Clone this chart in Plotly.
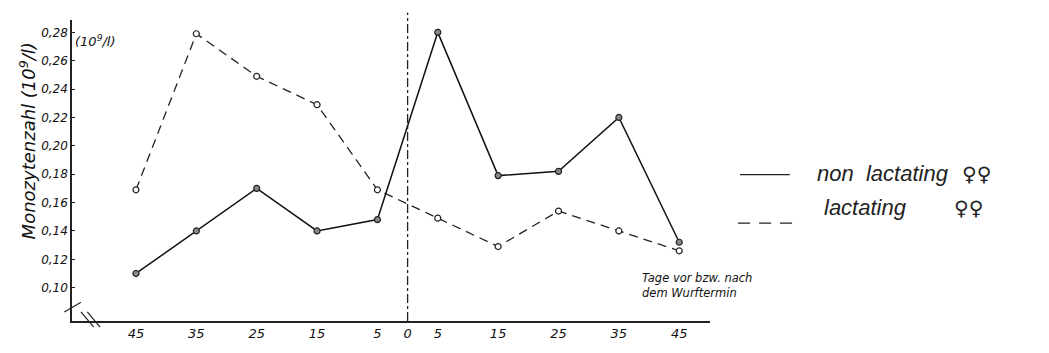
import plotly.graph_objects as go

# Days before (-) / after (+) parturition
days = [-45, -35, -25, -15, -5, 5, 15, 25, 35, 45]
non_lactating = [0.11, 0.14, 0.17, 0.14, 0.148, 0.28, 0.179, 0.182, 0.22, 0.132]
lactating = [0.169, 0.279, 0.249, 0.229, 0.169, 0.149, 0.129, 0.154, 0.14, 0.126]

y_ticks = [0.10, 0.12, 0.14, 0.16, 0.18, 0.20, 0.22, 0.24, 0.26, 0.28]
y_ticktext = ["0,10", "0,12", "0,14", "0,16", "0,18", "0,20", "0,22", "0,24", "0,26", "0,28"]
x_ticks = [-45, -35, -25, -15, -5, 0, 5, 15, 25, 35, 45]
x_ticktext = ["45", "35", "25", "15", "5", "0", "5", "15", "25", "35", "45"]

FONT = "DejaVu Sans"
HAND = "Liberation Sans"

fig = go.Figure()
fig.add_trace(go.Scatter(
    x=days, y=lactating, mode="lines+markers", name="lactating ♀♀",
    line=dict(color="#222", width=1.3, dash="9px,6px"),
    marker=dict(symbol="circle", size=6, color="white", line=dict(color="#222", width=1.2)),
))
fig.add_trace(go.Scatter(
    x=days, y=non_lactating, mode="lines+markers", name="non lactating ♀♀",
    line=dict(color="#111", width=1.5),
    marker=dict(symbol="circle", size=6, color="#888", line=dict(color="#222", width=1.2)),
))

x_range = [-55.6, 50.1]
y_range = [0.0765, 0.2887]

shapes = [
    # vertical dash-dot line at day 0
    dict(type="line", xref="x", yref="paper", x0=0, x1=0, y0=0, y1=1.025,
         line=dict(color="#222", width=1.3, dash="dashdot")),
    # axis breaks
    dict(type="line", xref="paper", yref="paper", x0=-0.012, x1=0.014, y0=0.03, y1=0.062,
         line=dict(color="#222", width=1.2)),
    dict(type="line", xref="paper", yref="paper", x0=0.014, x1=0.034, y0=0.03, y1=-0.02,
         line=dict(color="#222", width=1.2)),
    dict(type="line", xref="paper", yref="paper", x0=0.024, x1=0.044, y0=0.03, y1=-0.02,
         line=dict(color="#222", width=1.2)),
    # legend samples
    dict(type="line", xref="paper", yref="paper", x0=1.047, x1=1.125, y0=0.486, y1=0.486,
         line=dict(color="#222", width=1.3)),
    dict(type="line", xref="paper", yref="paper", x0=1.044, x1=1.134, y0=0.325, y1=0.325,
         line=dict(color="#222", width=1.3, dash="12px,9px")),
]

annotations = [
    dict(text="Monozytenzahl (10<sup>9</sup>/l)", xref="paper", yref="paper", x=-0.069, y=0.60,
         xanchor="center", yanchor="middle",
         textangle=-90, showarrow=False, font=dict(family=FONT, size=18, style="italic", color="#111")),
    dict(text="(10<sup>9</sup>/l)", xref="paper", yref="paper", x=0.002, y=0.962, xanchor="left",
         showarrow=False, font=dict(family=FONT, size=13, style="italic", color="#111")),
    dict(text="Tage vor bzw. nach<br>dem Wurftermin", xref="paper", yref="paper", x=0.89, y=0.118,
         xanchor="left", yanchor="middle", align="left", showarrow=False,
         font=dict(family=FONT, size=11.5, style="italic", color="#111")),
    dict(text="non  lactating", xref="paper", yref="paper", x=1.165, y=0.49, xanchor="left",
         showarrow=False, font=dict(family=HAND, size=22, style="italic", color="#222")),
    dict(text="♀♀", xref="paper", yref="paper", x=1.392, y=0.49, xanchor="left",
         showarrow=False, font=dict(family=FONT, size=20, color="#222")),
    dict(text="lactating", xref="paper", yref="paper", x=1.175, y=0.33, xanchor="left",
         showarrow=False, font=dict(family=HAND, size=22, style="italic", color="#222")),
    dict(text="♀♀", xref="paper", yref="paper", x=1.380, y=0.33, xanchor="left",
         showarrow=False, font=dict(family=FONT, size=20, color="#222")),
]

fig.update_layout(
    width=1049, height=353,
    margin=dict(l=72, r=339, t=20, b=16),
    paper_bgcolor="white", plot_bgcolor="white",
    showlegend=False,
    shapes=shapes, annotations=annotations,
    font=dict(family=FONT, color="#111"),
)
fig.update_xaxes(
    range=x_range, tickmode="array", tickvals=x_ticks, ticktext=x_ticktext,
    showgrid=False, zeroline=False, showline=True, linecolor="#222", linewidth=1.5,
    ticks="", tickfont=dict(family=FONT, size=13, style="italic"),
)
fig.update_yaxes(
    range=y_range, tickmode="array", tickvals=y_ticks, ticktext=y_ticktext,
    showgrid=False, zeroline=False, showline=True, linecolor="#222", linewidth=1.5,
    ticks="inside", ticklen=3, tickcolor="#222",
    tickfont=dict(family=FONT, size=12, style="italic"),
)

fig.write_html("out.html")
